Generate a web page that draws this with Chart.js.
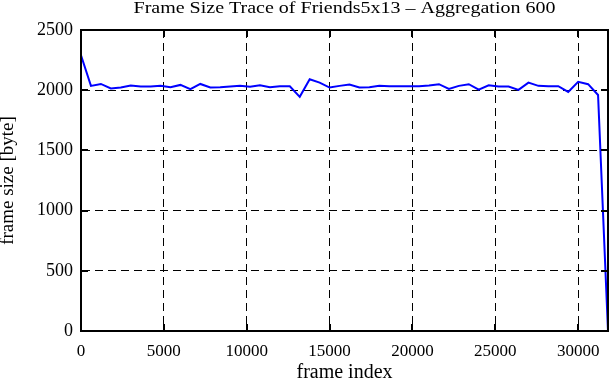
<!DOCTYPE html>
<html>
<head>
<meta charset="utf-8">
<script src="https://cdn.jsdelivr.net/npm/chart.js@4/dist/chart.umd.min.js"></script>
<style>
  html, body { margin: 0; padding: 0; background: #fff; }
  #wrap { width: 611px; height: 380px; }
</style>
</head>
<body>
<div id="wrap"><canvas id="chart"></canvas></div>
<script>
const TITLE = "Frame Size Trace of Friends5x13 \u2013 Aggregation 600";
const X_LABEL = "frame index";
const Y_LABEL = "frame size [byte]";

// aggregated trace, one point every 600 frames
const frameIndex = [
  0, 600, 1200, 1800, 2400, 3000, 3600, 4200, 4800, 5400,
  6000, 6600, 7200, 7800, 8400, 9000, 9600, 10200, 10800, 11400,
  12000, 12600, 13200, 13800, 14400, 15000, 15600, 16200, 16800, 17400,
  18000, 18600, 19200, 19800, 20400, 21000, 21600, 22200, 22800, 23400,
  24000, 24600, 25200, 25800, 26400, 27000, 27600, 28200, 28800, 29400,
  30000, 30600, 31200, 31800,
];
const frameSize = [
  2290, 2036, 2052, 2014, 2022, 2039, 2030, 2030, 2036, 2025,
  2044, 2008, 2052, 2022, 2025, 2030, 2036, 2028, 2041, 2025,
  2033, 2033, 1945, 2091, 2063, 2022, 2036, 2047, 2022, 2025,
  2036, 2033, 2033, 2033, 2033, 2039, 2050, 2011, 2036, 2050,
  2005, 2041, 2030, 2030, 2003, 2063, 2036, 2033, 2033, 1986,
  2069, 2050, 1960, 0,
];

const xTicks = [0, 5000, 10000, 15000, 20000, 25000, 30000];
const yTicks = [0, 500, 1000, 1500, 2000, 2500];
const X_MAX = 31800;
const Y_MAX = 2500;
const FONT = "'Liberation Serif', 'Times New Roman', serif";

// gnuplot-like frame: full border, inward tick marks, title over the plot
const framePlugin = {
  id: "frame",
  afterDraw(chart) {
    const { ctx, chartArea: a, scales } = chart;
    const len = 7;
    ctx.save();
    ctx.strokeStyle = "#000";
    ctx.lineWidth = 2;
    ctx.strokeRect(a.left, a.top, a.right - a.left, a.bottom - a.top);
    ctx.beginPath();
    scales.x.ticks.forEach((t) => {
      const px = Math.round(scales.x.getPixelForValue(t.value));
      ctx.moveTo(px, a.bottom); ctx.lineTo(px, a.bottom - len);
      ctx.moveTo(px, a.top); ctx.lineTo(px, a.top + len);
    });
    scales.y.ticks.forEach((t) => {
      const py = Math.round(scales.y.getPixelForValue(t.value));
      ctx.moveTo(a.left, py); ctx.lineTo(a.left + len, py);
      ctx.moveTo(a.right, py); ctx.lineTo(a.right - len, py);
    });
    ctx.stroke();

    // title is set wide and short, like the original output
    ctx.fillStyle = "#000";
    ctx.font = "16px " + FONT;
    ctx.textAlign = "center";
    ctx.textBaseline = "alphabetic";
    ctx.translate((a.left + a.right) / 2, 13);
    ctx.scale(1.25, 1);
    ctx.fillText(TITLE, 0, 0);
    ctx.restore();
  },
};

new Chart(document.getElementById("chart"), {
  type: "line",
  data: {
    datasets: [{
      data: frameIndex.map((x, i) => ({ x, y: frameSize[i] })),
      borderColor: "#0000ff",
      borderWidth: 2,
      pointRadius: 0,
      tension: 0,
      fill: false,
    }],
  },
  options: {
    responsive: true,
    maintainAspectRatio: false,
    animation: false,
    parsing: false,
    layout: { padding: { left: 0, right: 3, top: 30, bottom: 0 } },
    plugins: {
      legend: { display: false },
      tooltip: { enabled: false },
      title: { display: false },
    },
    scales: {
      x: {
        type: "linear",
        min: 0,
        max: X_MAX,
        afterFit(scale) { scale.height = 49; },
        afterBuildTicks(scale) { scale.ticks = xTicks.map((v) => ({ value: v })); },
        ticks: {
          color: "#000",
          padding: 10,
          maxRotation: 0,
          autoSkip: false,
          font: { family: FONT, size: 17 },
          callback: (v) => String(v),
        },
        grid: { color: "#000", lineWidth: 1, drawTicks: false },
        border: { display: true, color: "#000", width: 2, dash: [8, 5] },
        title: {
          display: true,
          text: X_LABEL,
          color: "#000",
          font: { family: FONT, size: 20, lineHeight: 0.75 },
          padding: { top: 0, bottom: 0 },
        },
      },
      y: {
        min: 0,
        max: Y_MAX,
        afterFit(scale) { scale.width = 81; },
        afterBuildTicks(scale) { scale.ticks = yTicks.map((v) => ({ value: v })); },
        ticks: {
          color: "#000",
          padding: 8,
          font: { family: FONT, size: 18 },
          callback: (v) => String(v),
        },
        grid: { color: "#000", lineWidth: 1, drawTicks: false },
        border: { display: true, color: "#000", width: 2, dash: [8, 5] },
        title: {
          display: true,
          text: Y_LABEL,
          color: "#000",
          font: { family: FONT, size: 19, lineHeight: 0.8 },
          padding: { top: 0, bottom: 0 },
        },
      },
    },
  },
  plugins: [framePlugin],
});
</script>
</body>
</html>
